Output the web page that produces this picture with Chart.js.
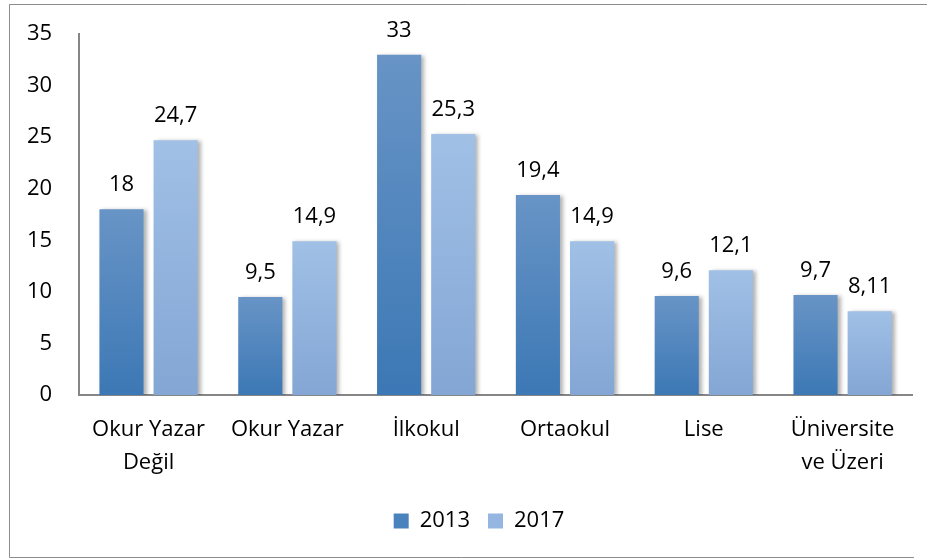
<!DOCTYPE html>
<html>
<head>
<meta charset="utf-8">
<script src="https://cdn.jsdelivr.net/npm/chart.js@4.4.1/dist/chart.umd.min.js"></script>
<style>
    body { margin: 0; background: #fff; }
    #eduChart { display: block; }
</style>
</head>
<body>
<canvas id="eduChart" width="932" height="559"></canvas>
<script>
// Categories and values
const categories = [['Okur Yazar', 'Değil'], 'Okur Yazar', 'İlkokul', 'Ortaokul', 'Lise', ['Üniversite', 've Üzeri']];
const values2013 = [18, 9.5, 33, 19.4, 9.6, 9.7];
const values2017 = [24.7, 14.9, 25.3, 14.9, 12.1, 8.11];
const seriesLabels = ['2013', '2017'];
const yTicks = [0, 5, 10, 15, 20, 25, 30, 35];

const fontFamily = '"Open Sans", "Noto Sans", sans-serif';

// Per-bar vertical gradient (lighter at the top)
function barGradient(top, bottom) {
    return function(context) {
        const chart = context.chart;
        if (context.type !== 'data' || !chart.chartArea) {
            return bottom;
        }
        const y = chart.scales.y;
        const yTop = y.getPixelForValue(context.parsed.y);
        const yBase = y.getPixelForValue(0);
        const g = chart.ctx.createLinearGradient(0, yTop, 0, yBase);
        g.addColorStop(0, top);
        g.addColorStop(1, bottom);
        return g;
    };
}

// Outer frame around the whole chart (right side is cut off in the original)
const framePlugin = {
    id: 'frame',
    beforeDraw(chart) {
        const ctx = chart.ctx;
        ctx.save();
        ctx.strokeStyle = '#8c8c8c';
        ctx.lineWidth = 1;
        ctx.beginPath();
        ctx.moveTo(927, 4.5);
        ctx.lineTo(9.5, 4.5);
        ctx.lineTo(9.5, 557.5);
        ctx.lineTo(914, 557.5);
        ctx.stroke();
        ctx.restore();
    }
};

// Legend sits a little right of the canvas centre in the original
const legendShift = {
    id: 'legendShift',
    afterLayout(chart) {
        chart.legend.left += 23;
        chart.legend.right += 23;
    }
};

// Soft shadow to the right of the bars
const shadowPlugin = {
    id: 'barShadow',
    beforeDatasetsDraw(chart) {
        const ctx = chart.ctx;
        ctx.save();
        ctx.shadowColor = 'rgba(0, 0, 0, 0.3)';
        ctx.shadowBlur = 4;
        ctx.shadowOffsetX = 3;
        ctx.shadowOffsetY = 1;
    },
    afterDatasetsDraw(chart) {
        chart.ctx.restore();
    }
};

// Value labels above each bar, Turkish decimal comma
const valueLabels = {
    id: 'valueLabels',
    afterDatasetsDraw(chart) {
        const ctx = chart.ctx;
        ctx.save();
        ctx.font = '22px ' + fontFamily;
        ctx.fillStyle = '#000';
        ctx.textAlign = 'center';
        ctx.textBaseline = 'alphabetic';
        chart.data.datasets.forEach((ds, i) => {
            chart.getDatasetMeta(i).data.forEach((bar, j) => {
                const text = String(ds.data[j]).replace('.', ',');
                ctx.fillText(text, bar.x, bar.y - 18);
            });
        });
        ctx.restore();
    }
};

const ctx = document.getElementById('eduChart').getContext('2d');
new Chart(ctx, {
    type: 'bar',
    data: {
        labels: categories,
        datasets: [
            {
                label: seriesLabels[0],
                data: values2013,
                backgroundColor: barGradient('#6894c6', '#3c78b5')
            },
            {
                label: seriesLabels[1],
                data: values2017,
                backgroundColor: barGradient('#a0c0e6', '#84a6d4')
            }
        ]
    },
    options: {
        responsive: false,
        animation: false,
        categoryPercentage: 0.78,
        barPercentage: 0.815,
        layout: {
            padding: { top: 34, right: 20, bottom: 17, left: 0 }
        },
        plugins: {
            legend: {
                position: 'bottom',
                labels: {
                    font: { size: 22, family: fontFamily },
                    color: '#000',
                    boxWidth: 15,
                    boxHeight: 15,
                    padding: 18,
                    generateLabels(chart) {
                        return chart.data.datasets.map((ds, i) => ({
                            text: ds.label,
                            fillStyle: i === 0 ? '#4a82bd' : '#94b6e0',
                            strokeStyle: 'transparent',
                            lineWidth: 0,
                            datasetIndex: i
                        }));
                    }
                }
            },
            tooltip: { enabled: false }
        },
        scales: {
            y: {
                min: 0,
                max: 35,
                afterBuildTicks(axis) {
                    axis.ticks = yTicks.map(v => ({ value: v }));
                },
                afterFit(axis) {
                    axis.paddingTop = 0;
                },
                grid: { display: false, drawTicks: false },
                border: { display: true, color: '#868686', width: 2 },
                ticks: {
                    font: { size: 22, family: fontFamily },
                    color: '#000',
                    padding: 27
                }
            },
            x: {
                grid: { display: false, drawTicks: false },
                border: { display: true, color: '#868686', width: 2 },
                afterFit(axis) {
                    axis.height = 97;
                },
                ticks: {
                    font: { size: 22, family: fontFamily, lineHeight: 1.5 },
                    color: '#000',
                    padding: 18,
                    maxRotation: 0,
                    autoSkip: false
                }
            }
        }
    },
    plugins: [framePlugin, legendShift, shadowPlugin, valueLabels]
});
</script>
</body>
</html>
